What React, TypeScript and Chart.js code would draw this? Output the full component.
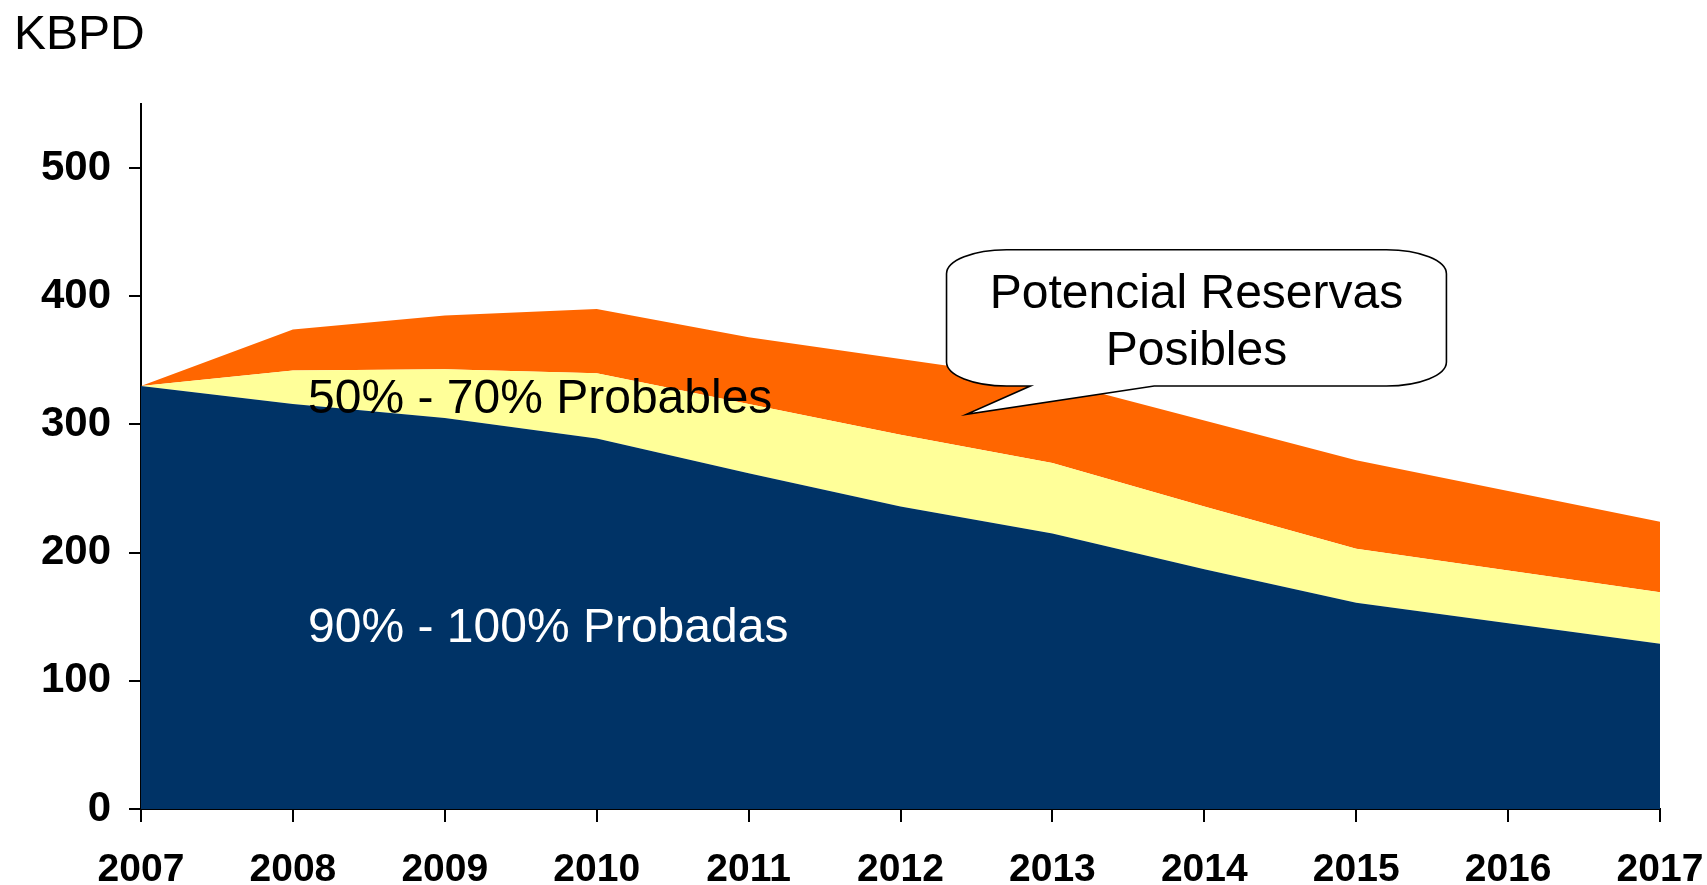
import React, { useEffect, useRef } from 'react';
import { Chart, registerables } from 'chart.js';

Chart.register(...registerables);

// ---- data ----
const years = ['2007', '2008', '2009', '2010', '2011', '2012', '2013', '2014', '2015', '2016', '2017'];
const probadas = [330, 316, 305, 289, 262, 236, 215, 187, 161, 145, 129];
const probables = [0, 26, 38, 51, 54, 56, 55, 49, 42, 41, 40];
const posibles = [0, 32, 42, 50, 52, 59, 64, 67, 69, 62, 55];
const yMin = 0;
const yMax = 550;
const yStep = 100;
const unitLabel = 'KBPD';
const probadasLabel = '90% - 100% Probadas';
const probablesLabel = '50% - 70% Probables';
const calloutLines = ['Potencial Reservas', 'Posibles'];

const FONT = '"Liberation Sans", Arial, sans-serif';

const annotationsPlugin = {
  id: 'annotations',
  afterDraw(chart: any) {
    const { ctx } = chart;
    const x = chart.scales.x;
    const y = chart.scales.y;
    ctx.save();
    // unit label
    ctx.fillStyle = '#000';
    ctx.textAlign = 'left';
    ctx.textBaseline = 'alphabetic';
    ctx.font = `48px ${FONT}`;
    ctx.fillText(unitLabel, 14, 49);

    // area labels
    ctx.font = `48px ${FONT}`;
    ctx.fillStyle = '#000';
    ctx.fillText(probablesLabel, x.getPixelForValue(1.1), y.getPixelForValue(309));
    ctx.fillStyle = '#fff';
    ctx.fillText(probadasLabel, x.getPixelForValue(1.1), y.getPixelForValue(130));

    // callout
    const L = x.getPixelForValue(5.303);
    const R = x.getPixelForValue(8.594);
    const T = y.getPixelForValue(436.3);
    const B = y.getPixelForValue(330);
    const tipX = x.getPixelForValue(5.435);
    const tipY = y.getPixelForValue(308);
    const base1 = x.getPixelForValue(5.855);
    const base2 = x.getPixelForValue(6.67);
    const rx = 60;
    const ry = 24;
    ctx.beginPath();
    ctx.moveTo(L + rx, T);
    ctx.lineTo(R - rx, T);
    ctx.ellipse(R - rx, T + ry, rx, ry, 0, -Math.PI / 2, 0);
    ctx.lineTo(R, B - ry);
    ctx.ellipse(R - rx, B - ry, rx, ry, 0, 0, Math.PI / 2);
    ctx.lineTo(base2, B);
    ctx.lineTo(tipX, tipY);
    ctx.lineTo(base1, B);
    ctx.lineTo(L + rx, B);
    ctx.ellipse(L + rx, B - ry, rx, ry, 0, Math.PI / 2, Math.PI);
    ctx.lineTo(L, T + ry);
    ctx.ellipse(L + rx, T + ry, rx, ry, 0, Math.PI, Math.PI * 1.5);
    ctx.closePath();
    ctx.fillStyle = '#fff';
    ctx.fill();
    ctx.lineWidth = 1.6;
    ctx.strokeStyle = '#000';
    ctx.lineJoin = 'miter';
    ctx.stroke();

    ctx.fillStyle = '#000';
    ctx.textAlign = 'center';
    ctx.font = `48px ${FONT}`;
    const cx = (L + R) / 2;
    ctx.fillText(calloutLines[0], cx, T + 58);
    ctx.fillText(calloutLines[1], cx, T + 115);
    ctx.restore();
  },
};

export default function App() {
  const ref = useRef<HTMLCanvasElement | null>(null);

  useEffect(() => {
    if (!ref.current) return;
    const chart = new Chart(ref.current, {
      type: 'line',
      data: {
        labels: years,
        datasets: [
          {
            label: 'Probadas',
            data: probadas,
            backgroundColor: '#003366',
            borderWidth: 0,
            pointRadius: 0,
            fill: 'origin',
            tension: 0,
          },
          {
            label: 'Probables',
            data: probables,
            backgroundColor: '#FFFF99',
            borderWidth: 0,
            pointRadius: 0,
            fill: '-1',
            tension: 0,
          },
          {
            label: 'Posibles',
            data: posibles,
            backgroundColor: '#FF6600',
            borderWidth: 0,
            pointRadius: 0,
            fill: '-1',
            tension: 0,
          },
        ],
      },
      options: {
        responsive: false,
        animation: false,
        devicePixelRatio: 1,
        layout: { padding: { top: 104, right: 47, left: 0, bottom: 0 } },
        plugins: {
          legend: { display: false },
          tooltip: { enabled: false },
        },
        scales: {
          x: {
            type: 'category',
            offset: false,
            z: 1,
            grid: {
              display: true,
              drawOnChartArea: false,
              drawTicks: true,
              tickLength: 13,
              color: '#000',
              lineWidth: 2,
            },
            border: { display: true, color: '#000', width: 2 },
            ticks: {
              color: '#000',
              font: { family: FONT, size: 39, weight: 'bold' },
              padding: 25,
              maxRotation: 0,
              autoSkip: false,
            },
            afterFit: (s: any) => {
              s.height = 76;
              s.paddingLeft = 0;
              s.paddingRight = 0;
            },
          },
          y: {
            min: yMin,
            max: yMax,
            stacked: true,
            z: 1,
            grid: {
              display: true,
              drawOnChartArea: false,
              drawTicks: true,
              tickLength: 12,
              color: '#000',
              lineWidth: 2,
            },
            border: { display: true, color: '#000', width: 2 },
            ticks: {
              stepSize: yStep,
              color: '#000',
              font: { family: FONT, size: 42, weight: 'bold' },
              padding: 18,
            },
            afterBuildTicks: (s: any) => {
              s.ticks = s.ticks.filter((t: any) => t.value % yStep === 0);
            },
            afterFit: (s: any) => {
              s.width = 141;
              s.paddingTop = 0;
              s.paddingBottom = 0;
            },
          },
        },
      } as any,
      plugins: [annotationsPlugin],
    });
    return () => chart.destroy();
  }, []);

  return (
    <div style={{ position: 'absolute', left: 0, top: 0, width: 1707, height: 885, background: '#fff' }}>
      <canvas ref={ref} width={1707} height={885} style={{ display: 'block' }} />
    </div>
  );
}
